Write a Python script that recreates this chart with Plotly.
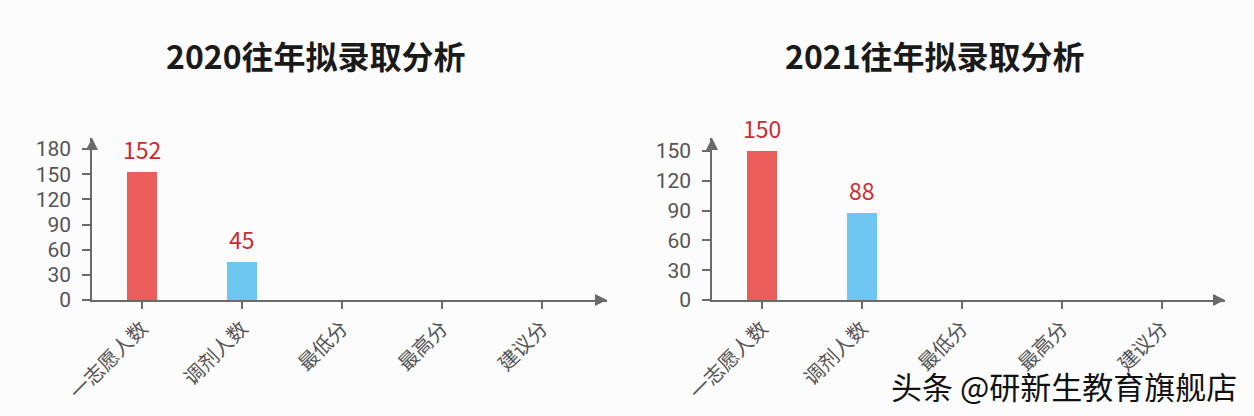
import plotly.graph_objects as go

categories = ["一志愿人数", "调剂人数", "最低分", "最高分", "建议分"]
values_2020 = [152, 45, None, None, None]
values_2021 = [150, 88, None, None, None]
titles = ["2020往年拟录取分析", "2021往年拟录取分析"]
bar_colors = ["#ea5d5a", "#6dc6f0", "#ea5d5a", "#ea5d5a", "#ea5d5a"]
watermark = "头条 @研新生教育旗舰店"

W, H = 1254, 416
FONT = "Noto Sans CJK SC"
NUMFONT = "Roboto"
AX = "#6a6a6a"
TXT = "#555555"
LBL = "#cf2a30"

def px(x):
    return x / W

def py(y):
    return 1 - y / H

fig = go.Figure()

panels = [
    dict(vals=values_2020, x0=92, x1=607, ymax=193.1, title=titles[0], tx=316, xa="x", ya="y"),
    dict(vals=values_2021, x0=712, x1=1225, ymax=163.1, title=titles[1], tx=935, xa="x2", ya="y2"),
]

y_top, y_bot = 138, 300
annotations = []
for i, p in enumerate(panels):
    fig.add_trace(go.Bar(
        x=categories, y=p["vals"], width=0.3,
        marker=dict(color=bar_colors, line=dict(width=0)),
        xaxis=p["xa"], yaxis=p["ya"], showlegend=False, hoverinfo="skip",
    ))
    sfx = "" if i == 0 else "2"
    fig.update_layout(**{
        "xaxis" + sfx: dict(
            domain=[px(p["x0"]), px(p["x1"])], anchor="y" + sfx, type="category",
            range=[-0.5, (p["x1"] - p["x0"]) / 100 - 0.5], automargin=False,
            showline=True, linecolor=AX, linewidth=1.5,
            ticks="outside", ticklen=7, tickcolor=AX, tickwidth=1.5,
            tickangle=-45, tickfont=dict(family=FONT, size=20, color=TXT),
            showgrid=False, zeroline=False, fixedrange=True,
        ),
        "yaxis" + sfx: dict(
            domain=[py(y_bot), py(y_top)], anchor="x" + sfx, automargin=False,
            range=[0, p["ymax"]], dtick=30, tick0=0,
            showline=True, linecolor=AX, linewidth=1.5,
            ticks="outside", ticklen=8, tickcolor=AX, tickwidth=1.5,
            ticklabelstandoff=7,
            tickfont=dict(family=NUMFONT, size=21, color=TXT),
            showgrid=False, zeroline=False, fixedrange=True,
        ),
    })
    # value labels
    for c, v in zip(categories, p["vals"]):
        if v is not None:
            annotations.append(dict(
                x=c, y=v, xref=p["xa"], yref=p["ya"], text=str(v), showarrow=False,
                yshift=23, font=dict(family=FONT, size=23, color=LBL),
            ))
    # axis arrows
    annotations.append(dict(
        x=px(p["x0"]), y=py(y_top), xref="paper", yref="paper", ax=0, ay=12,
        showarrow=True, arrowhead=2, arrowsize=1.6, arrowwidth=1.5, arrowcolor=AX, text="",
    ))
    annotations.append(dict(
        x=px(p["x1"]), y=py(y_bot), xref="paper", yref="paper", ax=-12, ay=0,
        showarrow=True, arrowhead=2, arrowsize=1.6, arrowwidth=1.5, arrowcolor=AX, text="",
    ))
    # title
    annotations.append(dict(
        x=px(p["tx"]), y=py(55), xref="paper", yref="paper", showarrow=False,
        text="<b>" + p["title"] + "</b>", xanchor="center", yanchor="middle",
        font=dict(family=FONT, size=32, color="#1a1a1a"),
    ))

annotations.append(dict(
    x=px(1239), y=py(385), xref="paper", yref="paper", showarrow=False,
    text=watermark, xanchor="right", yanchor="middle",
    font=dict(family=FONT, size=31, color="#111111"),
))

fig.update_layout(
    width=W, height=H, margin=dict(l=0, r=0, t=0, b=0, pad=0, autoexpand=False),
    paper_bgcolor="#fcfcfc", plot_bgcolor="rgba(0,0,0,0)",
    annotations=annotations, bargap=0,
)

fig.write_html("out.html", config={"displayModeBar": False},
               post_script="document.body.style.margin='0px';")
